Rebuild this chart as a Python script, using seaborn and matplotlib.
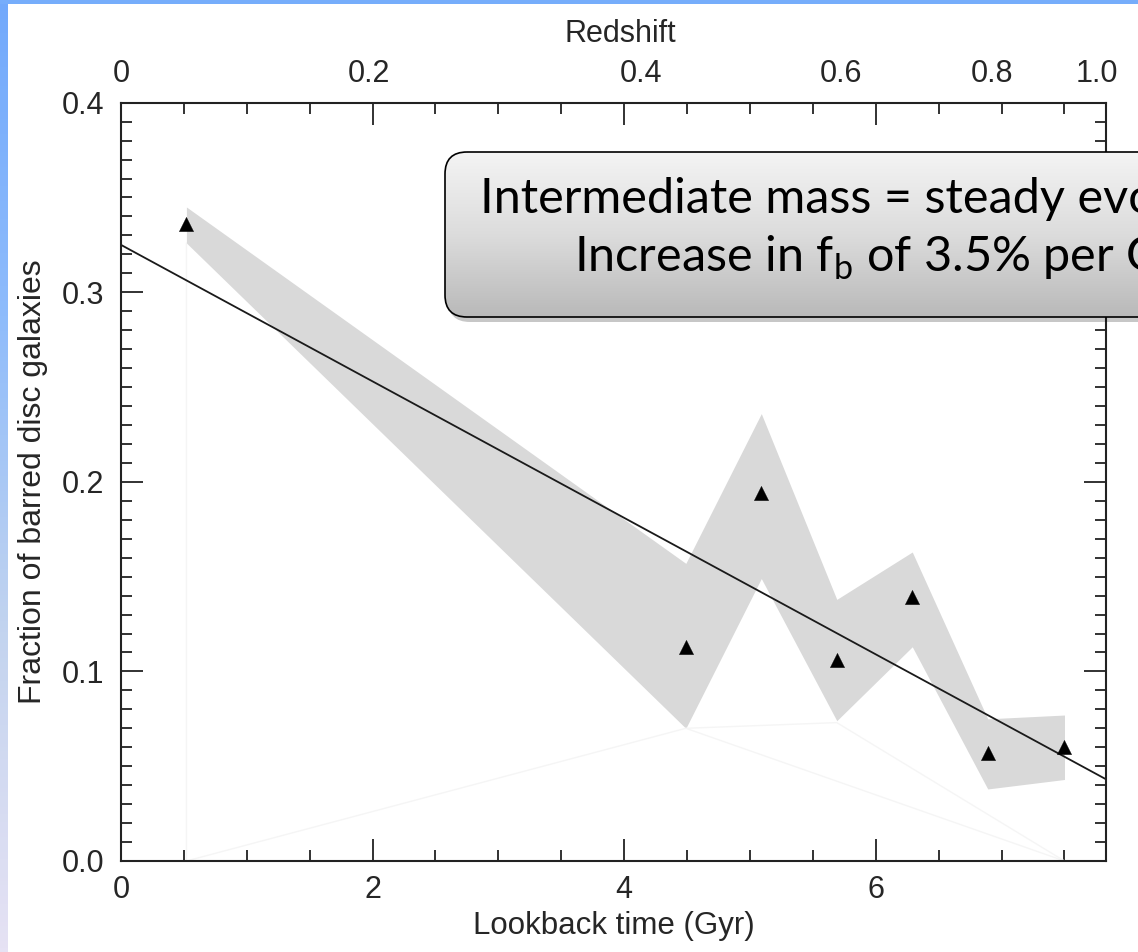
import numpy as np
import matplotlib
matplotlib.use("Agg")
import matplotlib.pyplot as plt
import seaborn as sns
from matplotlib.patches import FancyBboxPatch, Rectangle
from matplotlib.ticker import MultipleLocator, FixedLocator, FormatStrFormatter
from matplotlib.colors import LinearSegmentedColormap

# ---------------- data ----------------
lookback_gyr = [0.52, 4.49, 5.09, 5.69, 6.29, 6.89, 7.50]
bar_fraction = [0.336, 0.113, 0.194, 0.106, 0.139, 0.057, 0.060]
band_lower = [0.326, 0.070, 0.149, 0.074, 0.113, 0.038, 0.043]
band_upper = [0.345, 0.157, 0.236, 0.138, 0.163, 0.075, 0.077]
fit_intercept = 0.325
fit_slope = -0.036
faint_x = [0.52, 0.52, 4.49, 5.69, 7.50]
faint_y = [0.326, 0.0, 0.070, 0.073, 0.0]
faint2_x = [4.49, 7.50]
faint2_y = [0.070, 0.0]
x_ticks = [0, 2, 4, 6]
y_ticks = [0.0, 0.1, 0.2, 0.3, 0.4]
x_limits = [0.0, 7.83]
y_limits = [0.0, 0.4]
redshift_pos = [0.0, 1.97, 4.13, 5.72, 6.92, 7.76]
redshift_labels = ["0", "0.2", "0.4", "0.6", "0.8", "1.0"]
callout_lines = ["Intermediate mass = steady evolution",
                 r"Increase in f$_\mathregular{b}$ of 3.5% per Gyr"]

# ---------------- style ----------------
sns.set_style("ticks")
plt.rcParams["font.family"] = ["Liberation Sans", "DejaVu Sans"]
plt.rcParams["mathtext.fontset"] = "custom"
plt.rcParams["mathtext.rm"] = "Lato"

W, H = 1138, 952
fig = plt.figure(figsize=(W / 100, H / 100), dpi=100)
fig.patch.set_facecolor("white")

# slide background strips
strip_cmap = LinearSegmentedColormap.from_list(
    "strip", ["#72a9fb", "#8fbcfb", "#c3d4ef", "#e6e2f4"])
bg = fig.add_axes([0, 0, 8 / W, 1])
bg.imshow(np.linspace(0, 1, 256).reshape(-1, 1), cmap=strip_cmap,
          aspect="auto", extent=(0, 1, 0, 1), origin="upper")
bg.axis("off")
fig.add_artist(Rectangle((0, 1 - 4 / H), 1, 4 / H, transform=fig.transFigure,
                         facecolor="#76adfb", edgecolor="none"))

# ---------------- main axes ----------------
x0, x1, yt, yb = 121, 1106, 102.7, 861
ax = fig.add_axes([x0 / W, 1 - yb / H, (x1 - x0) / W, (yb - yt) / H])
ax.set_facecolor("white")

ax.fill_between(lookback_gyr, band_lower, band_upper, color="#d9d9d9",
                linewidth=0, zorder=1)
ax.plot(faint_x, faint_y, color="#f5f5f5", lw=1.0, zorder=1)
ax.plot(faint2_x, faint2_y, color="#f5f5f5", lw=1.0, zorder=1)

fit_x = np.array(x_limits)
fit_y = fit_intercept + fit_slope * fit_x
sns.lineplot(x=fit_x, y=fit_y, ax=ax, color="#1a1a1a", lw=1.3, zorder=2)
sns.scatterplot(x=lookback_gyr, y=bar_fraction, ax=ax, marker="^", s=105,
                color="black", edgecolor="black", linewidth=0.3, zorder=3)

ax.set_xlim(*x_limits)
ax.set_ylim(*y_limits)
ax.xaxis.set_major_locator(FixedLocator(x_ticks))
ax.xaxis.set_minor_locator(MultipleLocator(0.5))
ax.yaxis.set_major_locator(FixedLocator(y_ticks))
ax.yaxis.set_minor_locator(MultipleLocator(0.01))
ax.yaxis.set_major_formatter(FormatStrFormatter("%.1f"))
ax.xaxis.set_major_formatter(FormatStrFormatter("%d"))

ax.tick_params(which="both", direction="in", top=True, right=True,
               color="#222222", width=1.3)
ax.tick_params(which="major", length=15.8)
ax.tick_params(which="minor", length=8)
ax.tick_params(axis="x", which="major", labelsize=22, pad=10)
ax.tick_params(axis="y", which="major", labelsize=22, pad=12)
for s in ax.spines.values():
    s.set_visible(True)
    s.set_linewidth(1.5)
    s.set_color("#222222")

ax.set_xlabel("Lookback time (Gyr)", fontsize=22.5)
ax.xaxis.set_label_coords(0.5, (yb - 934) / (yb - yt))
ax.xaxis.label.set_va("baseline")
ax.set_ylabel("Fraction of barred disc galaxies", fontsize=23)
ax.yaxis.set_label_coords((48 - x0) / (x1 - x0), 0.5)

sec = ax.secondary_xaxis("top")
sec.xaxis.set_major_locator(FixedLocator(redshift_pos))
sec.set_xticklabels(redshift_labels)
sec.xaxis.set_minor_locator(FixedLocator([]))
sec.tick_params(axis="x", which="both", length=0, labelsize=22, pad=10)
sec.spines["top"].set_visible(False)
ax.text((620 - x0) / (x1 - x0), (yb - 42) / (yb - yt), "Redshift",
        transform=ax.transAxes, fontsize=22, ha="center", va="baseline")

# ---------------- callout box (pixel overlay) ----------------
ov = fig.add_axes([0, 0, 1, 1], zorder=10)
ov.set_xlim(0, W)
ov.set_ylim(H, 0)
ov.axis("off")
ov.patch.set_alpha(0)

bx, by, bw, bh, r = 445, 152, 900, 165, 22
shadow = FancyBboxPatch((bx + 3, by + 5), bw, bh,
                        boxstyle=f"round,pad=0,rounding_size={r}",
                        facecolor="black", edgecolor="none", alpha=0.22,
                        zorder=1)
ov.add_patch(shadow)
box = FancyBboxPatch((bx, by), bw, bh,
                     boxstyle=f"round,pad=0,rounding_size={r}",
                     facecolor="none", edgecolor="black", linewidth=1.2,
                     zorder=3)
ov.add_patch(box)
grad_cmap = LinearSegmentedColormap.from_list("box", ["#f4f4f4", "#dcdcdc", "#b9b9b9"])
im = ov.imshow(np.linspace(0, 1, 256).reshape(-1, 1), cmap=grad_cmap,
               aspect="auto", extent=(bx, bx + bw, by + bh, by), origin="upper",
               zorder=2)
im.set_clip_path(box)
ov.set_xlim(0, W)
ov.set_ylim(H, 0)

ov.text(480, 213, callout_lines[0], family="Lato", fontsize=35,
        color="black", va="baseline", ha="left", zorder=4)
ov.text(574, 272, callout_lines[1], family="Lato", fontsize=35,
        color="black", va="baseline", ha="left", zorder=4)

fig.savefig("out.png", dpi=100)
